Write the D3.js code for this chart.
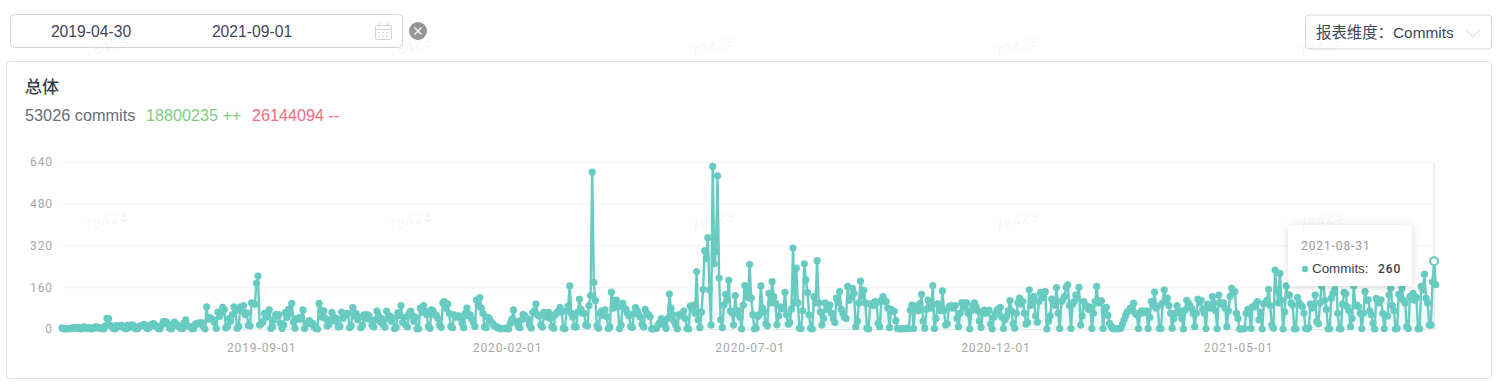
<!DOCTYPE html>
<html>
<head>
<meta charset="utf-8" />
<title>总体 Commits</title>
<script src="https://cdn.jsdelivr.net/npm/d3@7"></script>
<style>
html, body { margin: 0; padding: 0; background: #fff; overflow: hidden; }
text { font-family: "Liberation Sans", "Noto Sans CJK SC", sans-serif; }
.tick text, .din { font-family: Roboto, sans-serif; letter-spacing: 0.9px; }
</style>
</head>
<body>
<svg id="chart" width="1502" height="386"></svg>
<script>
const startDate = '2019-04-30';
const endDate = '2021-09-01';

// one row = one week, Monday to Sunday. first row starts on Tuesday 04-30
const commits2019 = [
	4,0,1,0,2,0,
	3,5,2,4,6,1,0, 7,8,4,2,5,0,1, 6,8,7,3,5,1,0, 12,41,40,14,10,2,0,
	13,9,11,14,8,3,0, 15,6,9,16,7,0,1, 10,12,14,18,9,2,4, 16,12,21,14,8,1,0,
	15,28,29,26,18,3,0, 12,26,20,13,9,2,1, 24,35,14,10,9,0,2, 18,22,20,25,24,10,0,
	85,38,44,40,35,25,2, 65,48,62,83,75,4,10, 40,30,55,85,70,3,10, 85,70,90,55,62,14,12,
	100,98,95,175,203,15,20, 28,60,45,50,73,2,10, 35,55,50,55,22,2,15, 63,45,75,60,98,28,3,
	40,38,45,38,73,2,18, 22,32,20,22,8,2,0, 98,72,45,70,40,12,16, 35,64,48,30,40,8,10,
	65,42,58,55,60,5,12, 82,50,60,35,45,5,14, 54,40,55,50,35,14,8, 35,69,52,28,40,15,7,
	69,40,50,30,42,1,6, 62,52,90,25,45,15,8, 60,69,50,30,45,0,1, 80,65,90,70,55,9,3,
	73,70,55,52,40,15,6, 100,105,80,95,60,10,5
];
const commits2020 = [
	54,45,48,50,40,22,5, 60,80,52,55,38,27,10, 111,90,120,80,60,8,5, 45,40,28,22,12,10,5,
	4,0,2,1,3,2,0, 22,38,73,30,25,10,5, 35,56,50,40,38,15,4, 64,70,95,55,50,15,8,
	64,50,45,64,40,9,3, 55,62,70,83,65,3,1, 70,88,165,60,45,9,8, 65,115,75,60,60,15,12,
	90,128,601,179,109,12,3, 60,70,52,73,48,2,8, 141,80,110,111,85,1,15, 98,80,75,60,50,10,6,
	60,82,70,55,45,18,8, 75,60,55,48,0,0,2, 2,15,25,40,35,15,2, 40,134,80,55,30,15,1,
	55,50,55,69,40,1,0, 88,80,92,60,220,35,5, 65,152,300,271,350,150,15, 623,250,297,587,195,35,5,
	92,133,110,186,70,62,15, 128,60,70,45,0,92,166, 140,120,248,118,55,0,3, 48,55,165,80,65,20,12,
	137,100,182,124,100,16,50, 85,78,80,140,55,19,25, 77,310,100,233,100,3,1, 70,250,188,140,54,3,0,
	124,100,262,100,65,15,40, 100,75,80,92,60,40,25, 118,100,143,75,60,45,40, 163,110,120,156,137,9,30,
	100,184,125,148,100,3,0, 96,96,90,105,100,22,9, 110,124,105,105,80,5,75, 70,68,32,2,0,1,0,
	2,1,3,1,73,92,2, 88,80,70,97,133,30,3, 75,111,95,80,166,2,40, 96,85,70,146,70,15,20,
	85,90,80,88,90,40,9, 60,100,100,80,100,60,0, 70,90,100,85,70,30,6, 60,72,60,70,72,18,0,
	45,60,73,60,83,45,2, 35,50,70,109,70,20,3, 60,100,118,95,105,60,19, 25,150,90,115,125,50,26,
	105,140,125,120,143,0,30
];
const commits2021 = [
	50,115,100,90,159,60,2, 105,112,125,160,169,90,2, 95,105,130,120,160,15,50, 105,90,88,75,83,2,60,
	105,163,100,108,108,2,80, 83,52,22,10,1,0,2, 0,1,3,19,35,52,65, 70,80,75,99,60,55,2,
	60,70,62,68,70,2,45, 105,90,141,80,88,2,1, 100,150,110,118,90,60,3, 40,60,90,72,60,40,0,
	72,110,100,90,80,60,9, 60,115,100,110,75,60,2, 95,90,80,124,100,70,1, 130,100,95,100,80,9,70,
	125,156,140,143,60,40,0, 0,0,2,60,75,60,2, 85,85,95,105,35,65,0, 96,100,110,152,90,15,3,
	226,150,100,213,110,0,65, 165,130,130,100,92,0,0, 120,100,92,85,60,2,0, 5,96,80,90,130,28,20,
	100,165,190,110,75,0,1, 118,135,150,180,60,1,0, 95,140,135,85,70,9,40, 165,90,92,85,60,1,60,
	143,110,112,70,55,22,0, 117,100,108,112,60,1,50, 50,130,156,90,70,0,2, 133,120,156,110,100,9,2,
	125,115,137,110,120,0,1, 163,150,210,118,100,15,15,
	180,260,170
];

const yTicks = [0, 160, 320, 480, 640];
const xTicks = ['2019-09-01', '2020-02-01', '2020-07-01', '2020-12-01', '2021-05-01'];
const hoverDate = '2021-08-31';
const hoverValue = 260;
const totals = { commits: '53026 commits', added: '18800235 ++', removed: '26144094 --' };

const teal = '#67cbc1';
const parseDay = d3.utcParse('%Y-%m-%d');
const formatDay = d3.utcFormat('%Y-%m-%d');

const allCommits = commits2019.concat(commits2020, commits2021);
const data = allCommits.map((v, i) => ({ day: d3.utcDay.offset(parseDay(startDate), i), value: v }));

const svg = d3.select('#chart');

// top controls
svg.append('rect').attr('x', 10.5).attr('y', 14.5).attr('width', 392).attr('height', 33).attr('rx', 4)
	.attr('fill', '#fff').attr('stroke', '#d3d5dd');
svg.append('text').attr('x', 91).attr('y', 36.5).attr('text-anchor', 'middle').attr('font-size', 15.7).attr('fill', '#41465a').text(startDate);
svg.append('text').attr('x', 252).attr('y', 36.5).attr('text-anchor', 'middle').attr('font-size', 15.7).attr('fill', '#41465a').text(endDate);

// calendar icon
const cal = svg.append('g').attr('transform', 'translate(375,22)').attr('fill', 'none').attr('stroke', '#d3d5dd');
cal.append('rect').attr('x', 0.5).attr('y', 3.5).attr('width', 16).attr('height', 14).attr('rx', 1);
cal.append('path').attr('d', 'M0.5 7.5H16.5M4.5 1V5M12.5 1V5');
cal.append('path').attr('d', 'M3 10.5H14M3 14H14').attr('stroke-dasharray', '2 2');

// clear button
svg.append('circle').attr('cx', 418).attr('cy', 31).attr('r', 9).attr('fill', '#959595');
svg.append('path').attr('d', 'M414.5 27.5L421.5 34.5M421.5 27.5L414.5 34.5').attr('stroke', '#fff').attr('stroke-width', 1.2);

// dimension select
svg.append('rect').attr('x', 1305.5).attr('y', 15).attr('width', 186).attr('height', 34).attr('rx', 4)
	.attr('fill', '#fff').attr('stroke', '#d3d5dd');
svg.append('text').attr('x', 1316).attr('y', 37.5).attr('font-size', 15.4).attr('fill', '#41465a').text('报表维度：Commits');
svg.append('path').attr('d', 'M1466 30L1473 37L1480 30').attr('fill', 'none').attr('stroke', '#d3d5dd');

// panel
svg.append('rect').attr('x', 6.5).attr('y', 61.5).attr('width', 1485).attr('height', 317).attr('rx', 4)
	.attr('fill', '#fff').attr('stroke', '#e2e2e4');
svg.append('text').attr('x', 25).attr('y', 93).attr('font-size', 17).attr('font-weight', 500).attr('fill', '#3a3e4c').text('总体');
svg.append('text').attr('x', 25).attr('y', 121).attr('font-size', 16.3).attr('fill', '#686d7a').text(totals.commits);
svg.append('text').attr('x', 146).attr('y', 121).attr('font-size', 16.2).attr('fill', '#82cc82').text(totals.added);
svg.append('text').attr('x', 252).attr('y', 121).attr('font-size', 16.2).attr('fill', '#ee6d7d').text(totals.removed);

// scales
let xScale = d3.scaleUtc().domain([parseDay(startDate), parseDay(endDate)]).range([62, 1435.7]);
let yScale = d3.scaleLinear().domain([0, 640]).range([329, 162]);

// axes
let yAxis = d3.axisLeft(yScale).tickValues(yTicks).tickSize(-1372).tickPadding(9);
let yG = svg.append('g').attr('transform', 'translate(62,0)').call(yAxis);
yG.select('.domain').remove();
yG.selectAll('.tick line').attr('stroke', '#f3f3f5');
yG.selectAll('.tick text').attr('fill', '#a8a8aa').attr('font-size', 12);

let xAxis = d3.axisBottom(xScale).tickValues(xTicks.map(parseDay)).tickFormat(formatDay).tickSize(0).tickPadding(14);
let xG = svg.append('g').attr('transform', 'translate(0,329)').call(xAxis);
xG.select('.domain').attr('stroke', '#e4e6e8');
xG.selectAll('.tick text').attr('fill', '#a8a8aa').attr('font-size', 12);

// axis pointer at the hovered day
const hoverX = xScale(parseDay(hoverDate));
svg.append('line').attr('x1', hoverX).attr('x2', hoverX).attr('y1', 162).attr('y2', 329).attr('stroke', '#e2e2e4').attr('stroke-width', 1);

// area, line and points
const area = d3.area().x(d => xScale(d.day)).y0(yScale(0)).y1(d => yScale(d.value));
const line = d3.line().x(d => xScale(d.day)).y(d => yScale(d.value));
svg.append('path').attr('d', area(data)).attr('fill', teal).attr('fill-opacity', 0.1);
svg.append('path').attr('d', line(data)).attr('fill', 'none').attr('stroke', teal).attr('stroke-width', 2.4);
svg.append('g').selectAll('circle').data(data).join('circle')
	.attr('cx', d => xScale(d.day)).attr('cy', d => yScale(d.value)).attr('r', 3.6).attr('fill', teal);

// hovered point
svg.append('circle').attr('cx', hoverX).attr('cy', yScale(hoverValue)).attr('r', 4).attr('fill', '#fff').attr('stroke', teal).attr('stroke-width', 2);

// tooltip
const tip = svg.append('g').attr('transform', 'translate(1288,225)');
tip.append('rect').attr('width', 124).attr('height', 61).attr('rx', 4).attr('fill', '#fff')
	.style('filter', 'drop-shadow(0 1px 5px rgba(0,0,0,0.14))');
tip.append('text').attr('class', 'din').attr('x', 13).attr('y', 25).attr('font-size', 12).attr('fill', '#9a9a9c').text(hoverDate);
tip.append('circle').attr('cx', 17).attr('cy', 44).attr('r', 3.2).attr('fill', teal);
tip.append('text').attr('x', 24).attr('y', 48).attr('font-size', 13.4).attr('fill', '#3a3d48').text('Commits:');
tip.append('text').attr('class', 'din').attr('x', 90).attr('y', 48).attr('font-size', 12).attr('font-weight', 500).attr('fill', '#3a3d48').text(hoverValue);

// watermark on top of everything
const markX = [107, 411, 714, 1018, 1322];
const markY = [52, 226];
markY.forEach(my => markX.forEach(mx => {
	svg.append('text').attr('x', mx).attr('y', my).attr('text-anchor', 'middle')
		.attr('transform', `rotate(-15 ${mx} ${my})`)
		.attr('font-size', 16).attr('fill', '#000').attr('fill-opacity', 0.055).text('78423');
}));
</script>
</body>
</html>
